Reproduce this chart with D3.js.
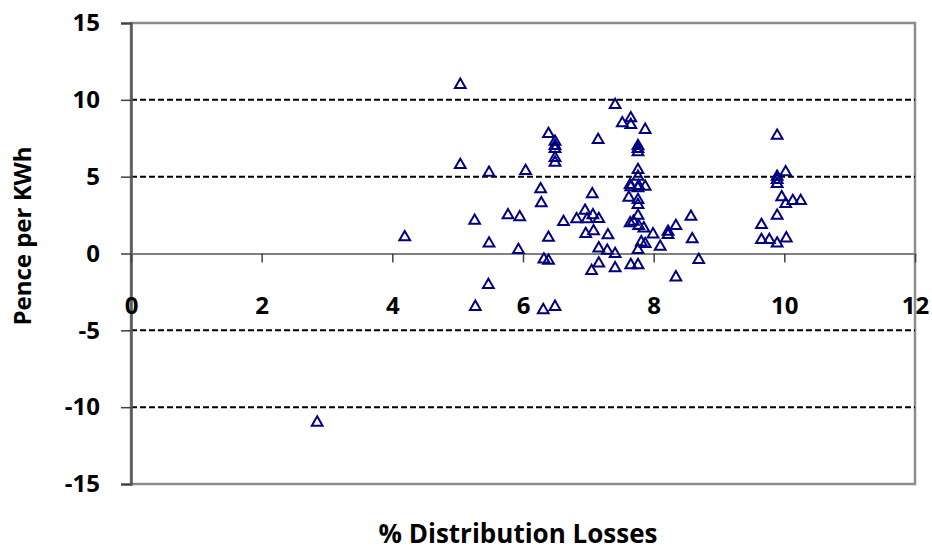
<!DOCTYPE html>
<html>
<head>
<meta charset="utf-8">
<script src="https://cdn.jsdelivr.net/npm/d3@7"></script>
<style>
  body { margin: 0; background: #fff; }
  text { font-family: "Open Sans", Lato, sans-serif; font-weight: bold; fill: #000; font-variant-ligatures: none; }
</style>
</head>
<body>
<svg id="chart" width="932" height="550"></svg>
<script>
// % distribution losses (x) and pence per kWh (y)
var lossPct = [2.85, 4.19, 5.04, 5.04, 5.26, 5.27, 5.48, 5.48, 5.47, 5.77,
  5.95, 5.93, 6.04, 6.27, 6.28, 6.39, 6.49, 6.49, 6.49, 6.49,
  6.49, 6.39, 6.32, 6.39, 6.31, 6.49, 6.62, 6.82, 6.95, 6.98,
  7.07, 7.16, 6.96, 7.08, 7.16, 7.16, 7.05, 7.06, 7.15, 7.41,
  7.52, 7.65, 7.65, 7.87, 7.76, 7.76, 7.76, 7.76, 7.76, 7.64,
  7.65, 7.77, 7.76, 7.87, 7.62, 7.76, 7.76, 7.76, 7.64, 7.69,
  7.77, 7.85, 8.57, 8.34, 8.22, 8.22, 7.30, 7.99, 8.59, 7.29,
  7.41, 7.81, 7.87, 8.10, 7.76, 8.69, 7.41, 7.65, 7.76, 8.34,
  9.89, 10.02, 9.89, 9.89, 9.89, 9.96, 10.02, 10.13, 10.25, 9.89,
  9.65, 9.65, 9.77, 9.89, 10.03];
var pencePerKwh = [-11.0, 1.06, 10.98, 5.77, 2.14, -3.47, 5.26, 0.66, -2.05, 2.49,
  2.36, 0.23, 5.37, 4.18, 3.27, 7.78, 7.28, 7.0, 6.81, 6.22,
  5.92, 1.03, -0.38, -0.47, -3.68, -3.47, 2.05, 2.23, 2.79, 2.23,
  2.49, 2.25, 1.27, 1.45, 0.34, -0.64, -1.14, 3.86, 7.39, 9.67,
  8.48, 8.81, 8.37, 8.05, 7.0, 6.81, 6.59, 5.44, 5.0, 4.46,
  4.31, 4.40, 4.25, 4.35, 3.64, 3.49, 3.16, 2.46, 1.97, 2.07,
  1.79, 1.64, 2.4, 1.79, 1.42, 1.21, 1.19, 1.25, 0.93, 0.18,
  -0.03, 0.73, 0.62, 0.44, 0.23, -0.42, -0.96, -0.75, -0.75, -1.55,
  7.67, 5.29, 5.0, 4.79, 4.53, 3.66, 3.22, 3.42, 3.42, 2.46,
  1.86, 0.88, 0.88, 0.66, 0.99];
var xTicks = [0, 2, 4, 6, 8, 10, 12];
var yTicks = [-15, -10, -5, 0, 5, 10, 15];
var gridValues = [-10, -5, 5, 10];

var svg = d3.select("#chart");
var plotLeft = 131, plotTop = 23, plotRight = 915, plotBottom = 484;

var x = d3.scaleLinear().domain([0, 12]).range([plotLeft, plotRight]);
var y = d3.scaleLinear().domain([-15, 15]).range([plotBottom, plotTop]);

var points = lossPct.map(function(v, i) { return { x: v, y: pencePerKwh[i] }; });

// plot area border (gray)
svg.append("rect")
    .attr("x", plotLeft).attr("y", plotTop)
    .attr("width", plotRight - plotLeft).attr("height", plotBottom - plotTop)
    .attr("fill", "none")
    .attr("stroke", "#8c8c8c")
    .attr("stroke-width", 2.5);

// dashed gridlines
svg.append("g").selectAll("line")
  .data(gridValues)
  .enter().append("line")
    .attr("x1", plotLeft).attr("x2", plotRight)
    .attr("y1", function(d) { return y(d); })
    .attr("y2", function(d) { return y(d); })
    .attr("stroke", "#000")
    .attr("stroke-width", 2)
    .attr("stroke-dasharray", "6,3");

// y axis
var yAxis = svg.append("g")
    .attr("transform", "translate(" + plotLeft + ",0)")
    .call(d3.axisLeft(y).tickValues(yTicks).tickSize(10).tickPadding(21)
      .tickFormat(function(d) { return String(d); }));
yAxis.select(".domain").attr("stroke", "#595959").attr("stroke-width", 2.5);
yAxis.selectAll(".tick line").attr("stroke", "#404040").attr("stroke-width", 1.5);
yAxis.selectAll("text").style("font-size", "24px").attr("fill", "#000");

// x axis through zero
var xAxis = svg.append("g")
    .attr("transform", "translate(0," + y(0) + ")")
    .call(d3.axisBottom(x).tickValues(xTicks).tickSize(9).tickSizeOuter(0)
      .tickFormat(function(d) { return String(d); }));
xAxis.select(".domain").attr("stroke", "#808080").attr("stroke-width", 2);
xAxis.selectAll(".tick line").attr("stroke", "#404040").attr("stroke-width", 1.5);
xAxis.selectAll("text").style("font-size", "24px").attr("fill", "#000")
    .attr("y", 43).attr("dy", "0.71em");

// markers
svg.append("g").selectAll("path")
  .data(points)
  .enter().append("path")
    .attr("transform", function(d) { return "translate(" + x(d.x) + "," + y(d.y) + ")"; })
    .attr("d", d3.symbol().type(d3.symbolTriangle).size(50))
    .attr("fill", "none")
    .attr("stroke", "#000080")
    .attr("stroke-width", 2);

// axis titles
svg.append("text")
    .attr("x", 518).attr("y", 543)
    .attr("text-anchor", "middle")
    .style("font-size", "26px")
    .text("% Distribution Losses");

svg.append("text")
    .attr("transform", "translate(31,236) rotate(-90)")
    .attr("text-anchor", "middle")
    .style("font-size", "24px")
    .text("Pence per KWh");
</script>
</body>
</html>
